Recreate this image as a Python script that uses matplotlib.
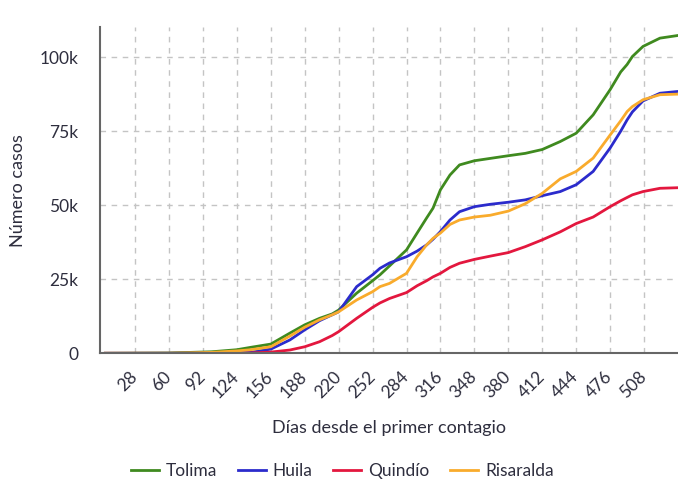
import matplotlib
matplotlib.use('Agg')
import matplotlib.pyplot as plt
import numpy as np

plt.rcParams['font.family'] = ['Lato', 'DejaVu Sans']

# days since first case and cumulative cases (thousands)
days = [0, 60, 100, 124, 137, 156, 174, 188, 202, 214, 220, 237, 252, 259, 268, 284, 294, 303,
        309, 316, 325, 334, 348, 363, 380, 396, 412, 429, 444, 460, 476, 486, 492, 497, 507, 523, 540]

tolima = [0, 0.1, 0.5, 1.2, 2, 3.1, 6.8, 9.6, 11.8, 13.3, 14.6, 20.3, 24.5, 26.5, 29.5, 34.9, 40.6, 45.7,
          49, 55.2, 60.2, 63.6, 65, 65.8, 66.7, 67.5, 68.8, 71.5, 74.3, 80.5, 89, 95, 97.5, 100.2, 103.6, 106.4, 107.3]
huila = [0, 0, 0.1, 0.2, 0.3, 1.4, 4.5, 7.9, 11, 13, 14, 22.5, 26.5, 28.7, 30.5, 32.6, 34.5, 36.6,
         38.5, 41.1, 45, 47.8, 49.5, 50.3, 51, 51.8, 53.2, 54.6, 56.9, 61.4, 69.3, 75, 78.8, 81.5, 85.2, 87.8, 88.4]
quindio = [0, 0, 0, 0, 0.1, 0.4, 1.1, 2.2, 3.9, 6, 7.3, 11.8, 15.5, 17, 18.5, 20.5, 22.8, 24.5,
           25.8, 27, 29, 30.4, 31.7, 32.8, 34, 36, 38.3, 41, 43.8, 46, 49.5, 51.5, 52.6, 53.5, 54.6, 55.7, 55.9]
risaralda = [0, 0, 0.3, 0.8, 1.2, 2.2, 5.8, 8.8, 11.3, 13, 14, 18, 20.8, 22.5, 23.6, 27, 32.6, 36.6,
             38.8, 40.6, 43.5, 45, 46, 46.6, 48, 50.5, 54, 58.9, 61.4, 65.9, 73.7, 78.5, 81.6, 83.3, 85.6, 87.3, 87.5]

series = [('Tolima', tolima, '#3f8a1f'),
          ('Huila', huila, '#2b2bcc'),
          ('Quindío', quindio, '#e3173e'),
          ('Risaralda', risaralda, '#f9ab2c')]

xticks = list(range(28, 509, 32))
yticks = [0, 25000, 50000, 75000, 100000]
ylabels = ['0', '25k', '50k', '75k', '100k']

txt = '#2e2e3e'

fig = plt.figure(figsize=(6.78, 4.80), dpi=100)
ax = fig.add_axes([0.148, 0.264, 0.852, 0.68])

for name, vals, col in series:
    ax.plot(days, np.array(vals) * 1000, color=col, lw=2, label=name)

ax.set_xlim(-4.7, 540)
ax.set_ylim(0, 110200)

ax.set_xticks(xticks)
ax.set_xticklabels([str(t) for t in xticks], rotation=45, ha='right', va='center',
                   rotation_mode='anchor')
ax.set_yticks(yticks)
ax.set_yticklabels(ylabels)
ax.tick_params(axis='x', length=0, pad=15, labelsize=12.5, labelcolor=txt)
ax.tick_params(axis='y', length=0, pad=16, labelsize=12.5, labelcolor=txt)

ax.grid(True, color='#c4c4c4', lw=1, linestyle=(0, (4, 4)))
ax.set_axisbelow(True)
for s in ['top', 'right']:
    ax.spines[s].set_visible(False)
for s in ['left', 'bottom']:
    ax.spines[s].set_color('#666666')
    ax.spines[s].set_linewidth(1.5)

ax.set_xlabel('Días desde el primer contagio', fontsize=13, color=txt)
ax.xaxis.set_label_coords(0.5, -0.229)
ax.xaxis.label.set_va('center')
ax.set_ylabel('Número casos', fontsize=13, color=txt)
ax.yaxis.set_label_coords(-0.143, 0.5)
ax.yaxis.label.set_va('center')

handles, labels = ax.get_legend_handles_labels()
leg = fig.legend(handles, labels, loc='center', bbox_to_anchor=(0.505, 0.018), ncol=4,
                 frameon=False, fontsize=12.5, handlelength=1.6, columnspacing=1.2,
                 handletextpad=0.4)
for t in leg.get_texts():
    t.set_color(txt)

fig.savefig('out.png', dpi=100)
